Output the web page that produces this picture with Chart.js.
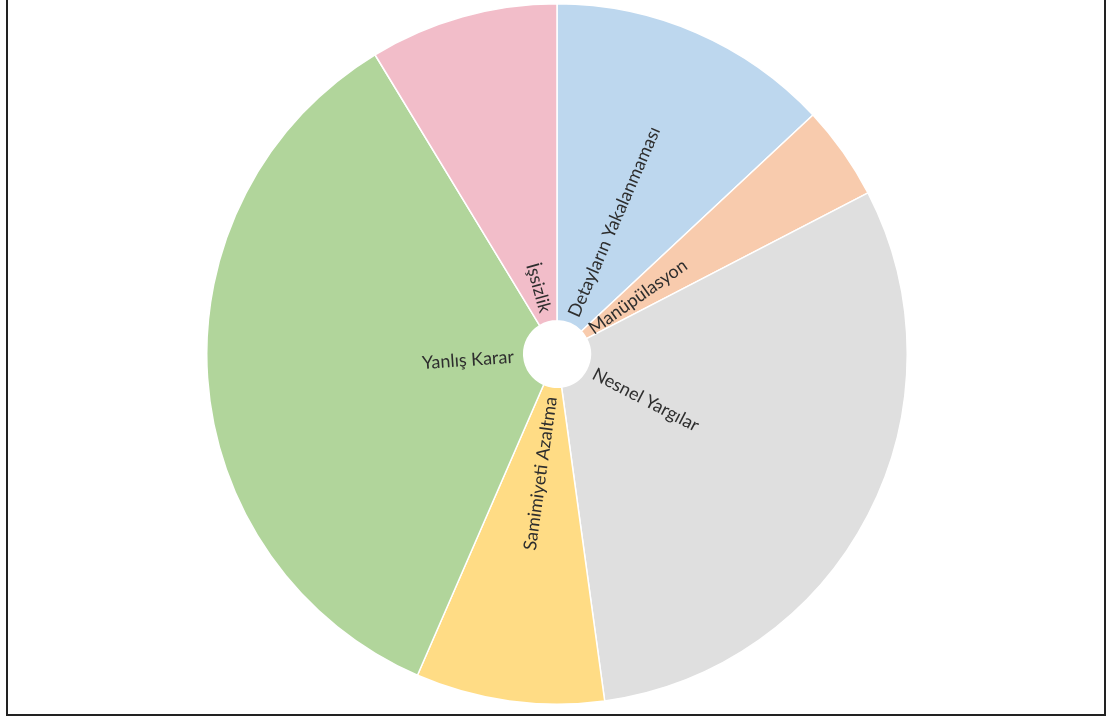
<!DOCTYPE html>
<html>
<head>
<meta charset="utf-8">
<script src="https://cdn.jsdelivr.net/npm/chart.js@4.4.1/dist/chart.umd.min.js"></script>
<style>
  body { margin: 0; background: #fff; width: 1113px; height: 720px; overflow: hidden; position: relative; }
  #frame { position: absolute; left: 6px; top: -10px; width: 1096px; height: 722px; border: 2px solid #222; }
  #wrap { position: absolute; left: 206px; top: 3px; width: 702px; height: 702px; }
</style>
</head>
<body>
<div id="frame"></div>
<div id="wrap"><canvas id="mycanvas"></canvas></div>
<script>
var labels = ["Detayların Yakalanmaması", "Manüpülasyon", "Nesnel Yargılar", "Samimiyeti Azaltma", "Yanlış Karar", "İşsizlik"];
var values = [15, 5, 35, 10, 40, 10];
var colors = ["#bdd7ee", "#f8cbad", "#dfdfdf", "#ffdc85", "#b1d59b", "#f2bdc9"];

// labels written along each slice, starting next to the hole
var sliceLabels = {
    id: 'sliceLabels',
    afterDatasetsDraw: function(chart) {
        var ctx = chart.ctx;
        var meta = chart.getDatasetMeta(0);
        ctx.save();
        ctx.font = '18px Lato';
        ctx.fillStyle = '#2e2e2e';
        ctx.textBaseline = 'middle';
        meta.data.forEach(function(arc, i) {
            var mid = (arc.startAngle + arc.endAngle) / 2;
            var r = arc.innerRadius + 8;
            ctx.save();
            ctx.translate(arc.x, arc.y);
            if (Math.cos(mid) >= 0) {
                ctx.rotate(mid);
                ctx.textAlign = 'left';
                ctx.fillText(chart.data.labels[i], r, 0);
            } else {
                ctx.rotate(mid + Math.PI);
                ctx.textAlign = 'right';
                ctx.fillText(chart.data.labels[i], -r - 2, 0);
            }
            ctx.restore();
        });
        ctx.restore();
    }
};

var ctx = document.getElementById("mycanvas");
var chart = new Chart(ctx, {
    type: 'doughnut',
    data: {
        labels: labels,
        datasets: [{
            data: values,
            backgroundColor: colors,
            borderColor: '#ffffff',
            borderWidth: 1.5
        }]
    },
    options: {
        responsive: true,
        maintainAspectRatio: false,
        animation: false,
        cutout: '9.5%',
        layout: { padding: 0 },
        plugins: {
            legend: { display: false },
            tooltip: { enabled: false }
        }
    },
    plugins: [sliceLabels]
});
</script>
</body>
</html>
